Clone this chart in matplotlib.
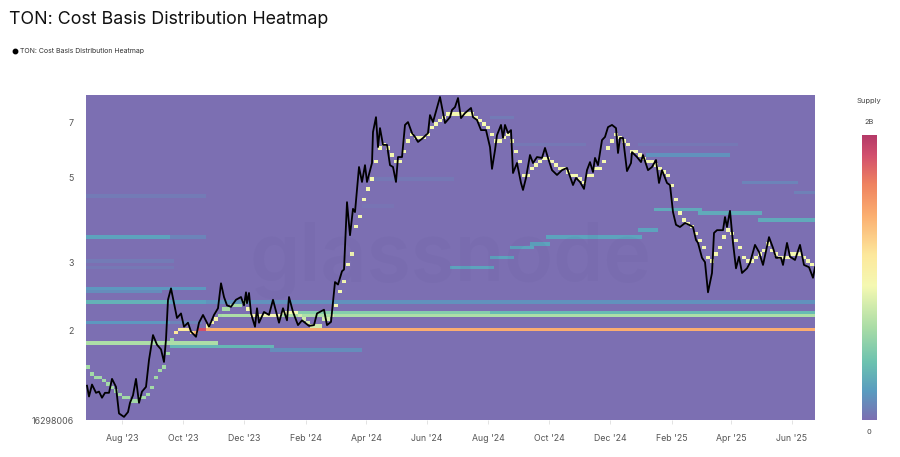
import numpy as np
import pandas as pd
import matplotlib
matplotlib.use("Agg")
import matplotlib.pyplot as plt
import matplotlib.dates as mdates
from matplotlib.colors import LinearSegmentedColormap
from matplotlib.ticker import FixedLocator, FixedFormatter, NullLocator

plt.rcParams['font.family'] = ['Inter', 'DejaVu Sans']

start_date = pd.Timestamp('2023-06-26')
end_date = pd.Timestamp('2025-06-24')

price_days = [1,3,6,10,13,16,19,23,26,30,33,38,42,44,47,50,53,56,60,63,67,71,75,78,80,82,85,88,91,95,98,102,105,110,113,117,
              123,128,132,135,138,141,145,150,155,158,160,161,163,165,169,171,173,178,183,187,193,197,201,203,207,212,216,223,228,231,238,241,245,
              247,249,252,256,258,261,264,267,269,273,276,279,281,286,287,290,292,294,297,301,304,307,310,312,316,319,322,326,329,332,337,342,344,347,351,354,359,364,
              366,369,372,375,379,385,387,391,395,400,404,406,409,411,415,417,419,422,425,427,431,435,437,440,444,447,451,456,459,462,466,471,476,481,487,490,494,498,
              501,504,507,509,512,516,519,522,526,530,532,534,537,541,545,546,551,555,557,562,566,570,573,576,581,584,587,590,594,599,603,607,610,612,616,619,622,626,628,
              631,637,639,641,644,647,650,653,656,661,664,669,673,677,683,687,690,695,697,701,704,709,714,718,723,727,729]
price_values = [1.43,1.34,1.44,1.37,1.38,1.33,1.37,1.37,1.49,1.42,1.21,1.185,1.22,1.29,1.35,1.49,1.29,1.38,1.42,1.67,1.94,1.83,1.78,1.65,1.89,2.40,2.57,2.35,2.15,2.21,2.04,2.09,1.98,1.92,2.09,2.19,
                2.04,2.19,2.28,2.65,2.44,2.32,2.30,2.40,2.44,2.32,2.51,2.35,2.50,2.21,2.04,2.28,2.09,2.23,2.19,2.40,2.09,2.28,2.12,2.44,2.23,2.06,2.12,2.05,2.06,2.21,2.26,2.06,2.10,
                2.37,2.67,2.63,2.85,2.88,4.32,3.54,4.15,4.07,5.34,4.88,5.40,4.88,5.47,6.59,7.21,6.02,6.75,6.10,6.10,5.40,5.34,4.88,5.67,5.67,6.88,7.00,6.55,6.40,6.21,6.36,6.55,7.30,7.00,7.62,8.14,6.96,7.21,
                7.53,7.66,8.09,7.17,7.39,7.62,7.21,7.09,6.67,6.67,6.02,5.28,5.91,6.47,6.88,6.36,6.88,6.55,6.67,5.15,5.47,4.85,4.65,5.00,5.74,5.47,5.67,5.64,5.99,5.64,5.24,5.09,5.24,5.31,4.79,5.00,4.88,4.68,
                5.24,5.50,5.18,5.64,5.40,6.28,6.40,6.79,6.88,6.75,5.81,6.36,6.36,5.21,5.47,5.84,5.67,5.50,5.74,5.24,5.34,5.57,4.85,5.24,4.85,4.79,4.07,3.77,3.72,3.81,3.77,3.72,3.44,3.38,3.09,3.01,2.51,2.82,3.59,
                3.65,3.65,3.95,3.72,4.10,3.38,2.90,3.11,2.82,2.90,3.00,3.34,3.20,2.96,3.50,3.28,3.09,3.09,2.96,3.38,3.11,3.05,3.34,2.96,2.92,2.74,2.92]

# Most concentrated cost basis in each 4-day column of the heatmap
ridge_prices = [1.60,1.55,1.52,1.49,1.46,1.44,1.42,1.39,1.37,1.34,1.33,1.31,1.31,1.32,1.33,1.35,1.42,1.49,1.56,1.61,
                1.75,1.89,1.95,1.99,1.99,1.99,1.98,1.98,2.00,2.02,2.04,2.09,2.14,2.20,2.26,2.28,2.31,2.32,2.34,2.35,
                2.27,2.19,2.19,2.19,2.19,2.19,2.19,2.19,2.20,2.21,2.23,2.23,2.21,2.19,2.15,2.10,2.06,2.05,2.07,2.12,
                2.15,2.19,2.34,2.50,2.66,2.96,3.18,3.69,3.95,4.43,4.70,5.00,5.57,6.02,6.16,5.99,5.74,5.47,5.50,5.84,
                6.21,6.47,6.40,6.36,6.40,6.44,6.71,6.96,7.08,7.17,7.30,7.39,7.43,7.43,7.39,7.39,7.30,7.21,7.04,6.92,
                6.79,6.55,6.24,6.28,6.40,6.55,6.28,5.81,5.50,5.12,5.12,5.24,5.40,5.53,5.64,5.60,5.50,5.37,5.31,5.24,
                5.18,5.09,5.03,4.94,4.90,5.03,5.12,5.24,5.34,5.57,5.99,6.28,6.47,6.36,6.24,6.06,5.91,5.81,5.74,5.67,
                5.57,5.50,5.40,5.28,5.15,5.03,4.82,4.43,4.07,3.90,3.81,3.72,3.54,3.46,3.30,3.07,3.01,3.18,3.30,3.48,
                3.67,3.61,3.44,3.26,3.09,3.01,3.05,3.09,3.16,3.24,3.34,3.24,3.18,3.12,3.09,3.09,3.14,3.18,3.14,3.09,
                3.01,2.96]
ridge_run_lengths = [22,5,1,2,3,7,13,9,120]
ridge_run_supply = [0.31,0.58,0.70,0.93,0.50,0.32,0.47,0.40,0.47]

band_start = [0,0,0,80,116,0,80,0,84,187,0,80,0,0,0,122,136,210,400,366,406,426,445,461,553,568,615,673,561,656,711,554,287,277,431,404]
band_end = [116,74,80,116,729,80,112,130,187,275,80,116,116,84,84,729,729,400,729,406,426,444,461,553,568,615,673,729,641,709,729,649,367,304,497,424]
band_price = [2.56,2.50,2.37,2.37,2.37,2.10,2.10,1.85,1.81,1.78,3.50,3.50,4.45,3.05,2.90,2.02,2.19,2.24,2.23,2.94,3.12,3.31,3.38,3.50,3.65,4.10,4.02,3.88,5.74,4.90,4.62,6.06,4.94,4.25,6.06,7.17]
band_supply = [0.09,0.07,0.16,0.11,0.08,0.09,0.05,0.33,0.17,0.07,0.12,0.05,0.03,0.03,0.02,0.72,0.33,0.25,0.18,0.12,0.12,0.12,0.12,0.12,0.12,0.14,0.14,0.14,0.08,0.05,0.04,0.02,0.02,0.015,0.02,0.03]

y_ticks = [2, 3, 5, 7]
y_tick_labels = ['2', '3', '5', '7']
y_min, y_max = 1.163, 8.24
x_tick_dates = ['2023-08-01','2023-10-01','2023-12-01','2024-02-01','2024-04-01','2024-06-01',
                '2024-08-01','2024-10-01','2024-12-01','2025-02-01','2025-04-01','2025-06-01']
x_tick_labels = ["Aug '23","Oct '23","Dec '23","Feb '24","Apr '24","Jun '24",
                 "Aug '24","Oct '24","Dec '24","Feb '25","Apr '25","Jun '25"]

cmap = LinearSegmentedColormap.from_list('supply', [
    (0.00, '#7c6fb2'), (0.10, '#5a9cc0'), (0.20, '#6cc2b0'), (0.32, '#a8dca6'),
    (0.47, '#f5f9b2'), (0.58, '#fde89c'), (0.72, '#fbae70'), (0.83, '#ef8260'),
    (0.93, '#d2506e'), (1.00, '#b53a68')])

fig = plt.figure(figsize=(9, 4.57), dpi=100)
W, H = 900, 457
ax = fig.add_axes([86/W, 1-420/H, (815-86)/W, (420-95)/H])

n_days = (end_date - start_date).days
column_days = np.arange(0, n_days + 4, 4)
time_edges = mdates.date2num(start_date + pd.to_timedelta(column_days, unit='D'))
n_rows = 95
price_edges = np.geomspace(y_min, y_max, n_rows + 1)
grid = np.zeros((n_rows, len(column_days) - 1))

for s, e, p, v in zip(band_start, band_end, band_price, band_supply):
    r = np.searchsorted(price_edges, p) - 1
    grid[r, s // 4:e // 4 + 1] = np.maximum(grid[r, s // 4:e // 4 + 1], v)

ridge_supply = np.repeat(ridge_run_supply, ridge_run_lengths)
for c, (p, v) in enumerate(zip(ridge_prices, ridge_supply)):
    grid[np.searchsorted(price_edges, p) - 1, c] = v

ax.pcolormesh(time_edges, price_edges, grid, cmap=cmap, vmin=0, vmax=1,
              shading='flat', rasterized=True, linewidth=0)

price_dates = start_date + pd.to_timedelta(price_days, unit='D')
ax.plot(price_dates, price_values, color='black', lw=1.3, solid_joinstyle='round', zorder=3)

ax.text(0.5, 0.49, 'glassnode', transform=ax.transAxes, ha='center', va='center',
        fontsize=58, fontweight='semibold', color='#4a4a80', alpha=0.06, zorder=2)

ax.set_yscale('log')
ax.set_ylim(y_min, y_max)
ax.set_xlim(start_date, end_date)
ax.yaxis.set_major_locator(FixedLocator(y_ticks + [y_min]))
ax.yaxis.set_major_formatter(FixedFormatter(y_tick_labels + ['16298006']))
ax.yaxis.set_minor_locator(NullLocator())
ax.set_xticks(pd.to_datetime(x_tick_dates))
ax.set_xticklabels(x_tick_labels)
ax.tick_params(axis='y', length=0, pad=9, labelsize=6.4, labelcolor='#555555')
ax.tick_params(axis='x', length=3, width=0.5, color='#d8d8d8', pad=7, labelsize=6.3, labelcolor='#555555')
ax.spines[['top', 'right', 'bottom', 'left']].set_visible(False)

fig.text(9/W, 1-19/H, 'TON: Cost Basis Distribution Heatmap', fontsize=12.85, color='#111111', va='center', ha='left')
fig.text(20/W, 1-51/H, 'TON: Cost Basis Distribution Heatmap', fontsize=5.0, color='#333333', va='center', ha='left')
fig.add_artist(plt.Line2D([15/W], [1-51/H], marker='o', ms=3.2, color='black', lw=0, transform=fig.transFigure))

cax = fig.add_axes([862/W, 1-420/H, 15/W, 285/H])
cax.imshow(np.linspace(1, 0, 256)[:, None], aspect='auto', cmap=cmap, vmin=0, vmax=1)
cax.axis('off')
fig.text(869/W, 1-101/H, 'Supply', fontsize=5.4, color='#444444', ha='center', va='center')
fig.text(869/W, 1-122/H, '2B', fontsize=5.4, color='#444444', ha='center', va='center')
fig.text(869/W, 1-432/H, '0', fontsize=5.4, color='#444444', ha='center', va='center')

fig.savefig('out.png', dpi=100)
